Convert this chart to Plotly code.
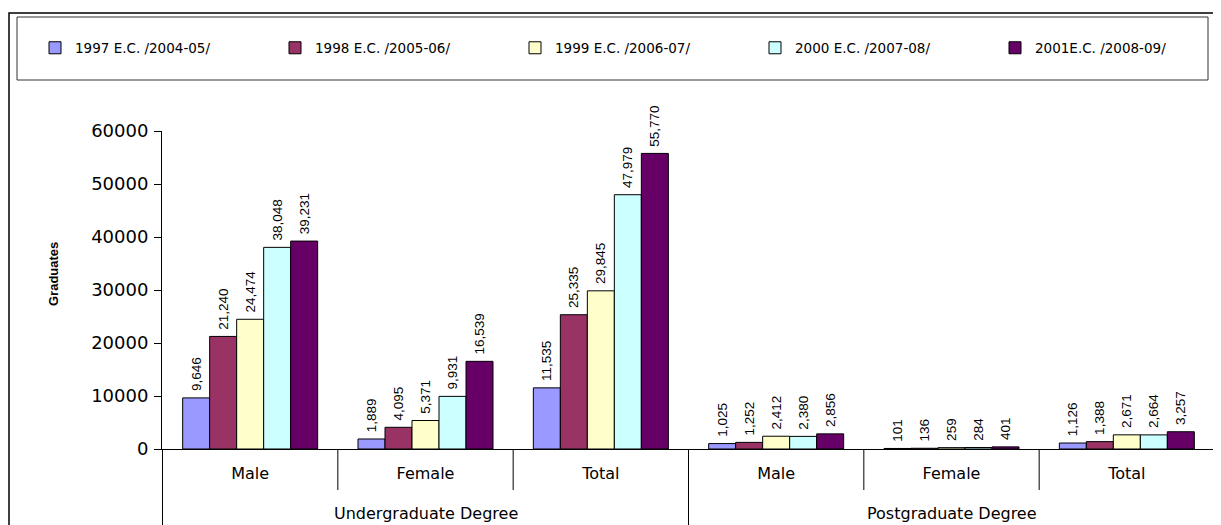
import plotly.graph_objects as go

# grouped data (Excel-style chart)
levels = ["Undergraduate Degree"] * 3 + ["Postgraduate Degree"] * 3
sexes = ["Male", "Female", "Total"] * 2
group_names = ["Undergraduate Degree", "Postgraduate Degree"]

years = [
    "1997 E.C. /2004-05/",
    "1998 E.C. /2005-06/",
    "1999 E.C. /2006-07/",
    "2000 E.C. /2007-08/",
    "2001E.C. /2008-09/",
]
y1997 = [9646, 1889, 11535, 1025, 101, 1126]
y1998 = [21240, 4095, 25335, 1252, 136, 1388]
y1999 = [24474, 5371, 29845, 2412, 259, 2671]
y2000 = [38048, 9931, 47979, 2380, 284, 2664]
y2001 = [39231, 16539, 55770, 2856, 401, 3257]
series = [y1997, y1998, y1999, y2000, y2001]

colors = ["#9999FF", "#993366", "#FFFFCC", "#CCFFFF", "#660066"]

ARIAL = "Liberation Sans, Arial, sans-serif"
WIDE = "DejaVu Sans, Verdana, sans-serif"   # the reference text is stretched sideways

# the page body adds an 8px margin, so the figure is a bit smaller than the window
W, H = 1213, 517
ML, MR, MT, MB = 154, 6, 123, 76
PW, PH = W - ML - MR, H - MT - MB


def px_x(x):
    return (x - ML) / PW


def px_y(y):
    return 1 + (MT - y) / PH


cats = [f"{lv} | {sx}" for lv, sx in zip(levels, sexes)]

fig = go.Figure()
for i, (name, vals, col) in enumerate(zip(years, series, colors)):
    fig.add_trace(go.Bar(
        x=cats, y=vals, name=name,
        marker=dict(color=col, line=dict(color="black", width=1)),
        texttemplate="\u00a0%{y:,}", textposition="outside", textangle=-90,
        textfont=dict(family=ARIAL, size=13.5, color="black"),
        cliponaxis=False, constraintext="none",
        legend="legend" if i == 0 else f"legend{i + 1}",
    ))

# chart frame and legend box
fig.add_shape(type="rect", xref="paper", yref="paper",
              x0=px_x(1), x1=px_x(1209), y0=px_y(540), y1=px_y(5),
              line=dict(color="black", width=1.5), layer="below")
fig.add_shape(type="rect", xref="paper", yref="paper",
              x0=px_x(9), x1=px_x(1200), y0=px_y(72), y1=px_y(9),
              line=dict(color="#333333", width=1), layer="below")

# category dividers below the axis
n = len(cats)
for b in range(n + 1):
    outer = b % 3 == 0
    fig.add_shape(type="line", xref="x", yref="paper",
                  x0=b - 0.5, x1=b - 0.5, y0=0,
                  y1=px_y(540) if outer else px_y(482),
                  line=dict(color="black", width=1))

# outer category labels
for g, name in enumerate(group_names):
    fig.add_annotation(text=name, xref="x", yref="paper",
                       x=g * 3 + 1, y=px_y(505), yanchor="middle",
                       showarrow=False,
                       font=dict(family=WIDE, size=16, color="black"))

# y axis title, placed like the Excel one
fig.add_annotation(text="<b>Graduates</b>", xref="paper", yref="paper",
                   x=px_x(45), y=px_y(266), textangle=-90,
                   xanchor="center", yanchor="middle", showarrow=False,
                   font=dict(family=ARIAL, size=13, color="black"))

legend_x = [27, 267, 507, 747, 987]
legends = {}
for i, lx in enumerate(legend_x):
    key = "legend" if i == 0 else f"legend{i + 1}"
    legends[key] = dict(
        x=px_x(lx), y=px_y(40), xanchor="left", yanchor="middle",
        font=dict(family=WIDE, size=13.5, color="black"),
        bgcolor="rgba(0,0,0,0)", itemwidth=30,
    )

fig.update_layout(
    width=W, height=H,
    margin=dict(l=ML, r=MR, t=MT, b=MB),
    paper_bgcolor="white", plot_bgcolor="white",
    barmode="group", bargap=0.23, bargroupgap=0,
    font=dict(family=ARIAL, color="black"),
    showlegend=True,
    **legends,
)

fig.update_xaxes(
    tickvals=cats, ticktext=sexes,
    showline=True, linecolor="black", linewidth=1,
    ticks="", ticklabelstandoff=10,
    tickfont=dict(family=WIDE, size=16, color="black"),
    showgrid=False,
)
fig.update_yaxes(
    range=[0, 60000], dtick=10000, tickformat="d",
    showline=True, linecolor="black", linewidth=1,
    ticks="outside", ticklen=7, tickcolor="black", ticklabelstandoff=2,
    tickfont=dict(family=WIDE, size=18, color="black"),
    showgrid=False, zeroline=False,
)

fig.write_html("out.html")
